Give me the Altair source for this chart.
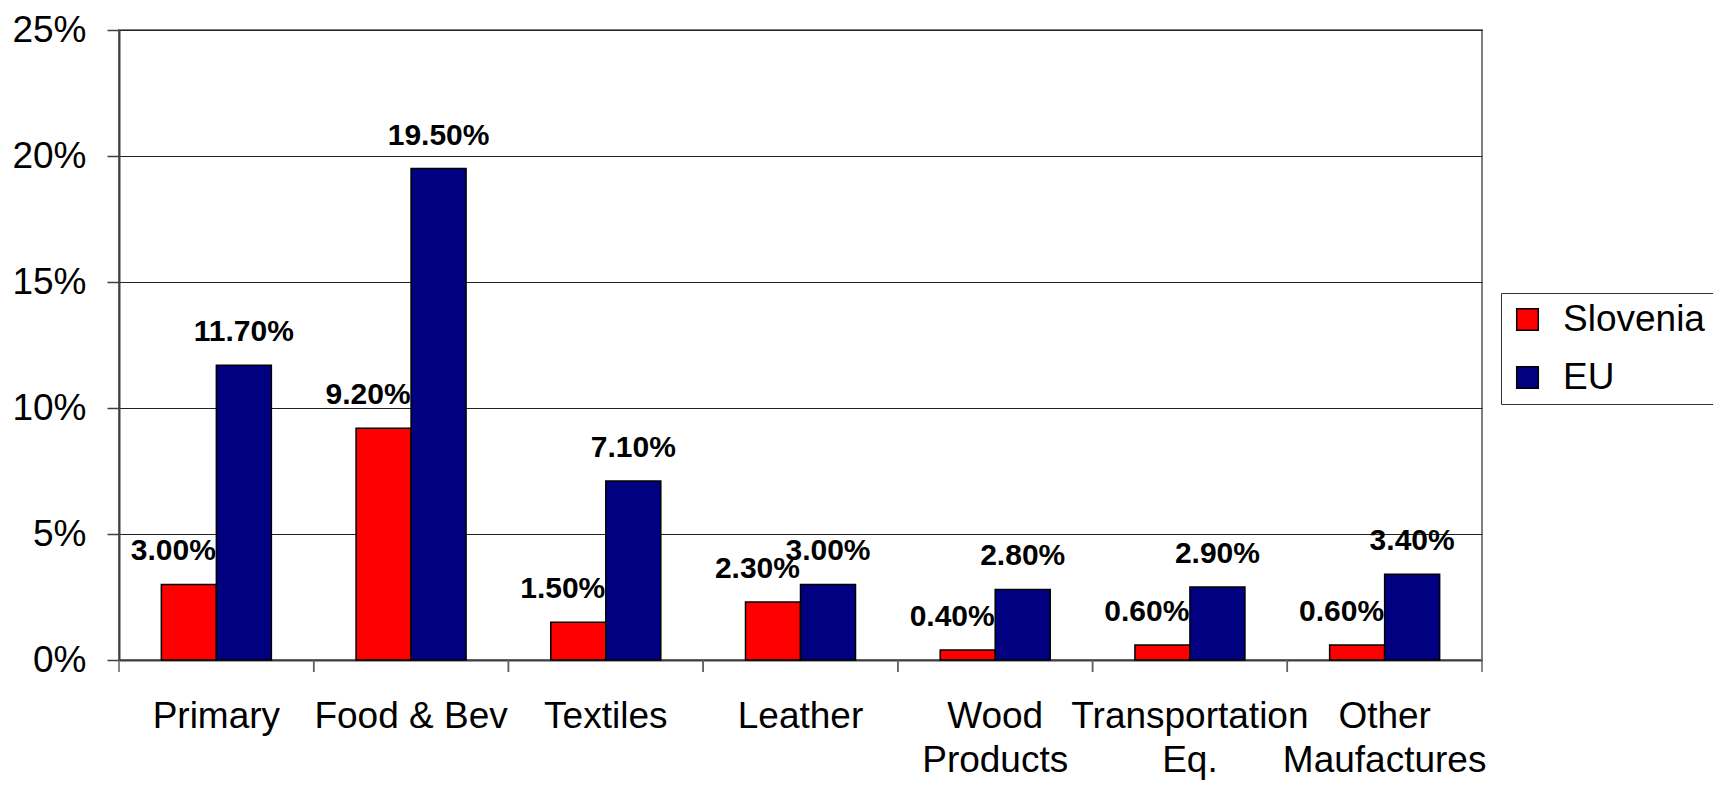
import json
import altair as alt
import pandas as pd

# ---- data ----
category_lines = [["Primary"], ["Food & Bev"], ["Textiles"], ["Leather"],
                  ["Wood", "Products"], ["Transportation", "Eq."], ["Other", "Maufactures"]]
categories = [" ".join(l) for l in category_lines]
series = ["Slovenia", "EU"]
slovenia = [3.0, 9.2, 1.5, 2.3, 0.4, 0.6, 0.6]
eu = [11.7, 19.5, 7.1, 3.0, 2.8, 2.9, 3.4]
y_ticks = [0, 5, 10, 15, 20, 25]
colors = ["#FF0000", "#000080"]

rows = []
for c, s, e in zip(categories, slovenia, eu):
    rows.append({"category": c, "series": "Slovenia", "value": s})
    rows.append({"category": c, "series": "EU", "value": e})
df = pd.DataFrame(rows)
sep_df = pd.DataFrame({"category": categories})

label_expr = ""
for c, lines in zip(categories, category_lines):
    if len(lines) > 1:
        label_expr += f"datum.value == {json.dumps(c)} ? {json.dumps(lines)} : "
label_expr += "datum.value"

W, H = 1363, 630
FONT = "Liberation Sans"

x_enc = alt.X(
    "category:N", sort=categories,
    scale=alt.Scale(paddingInner=0, paddingOuter=0),
    axis=alt.Axis(title=None, labelAngle=0, ticks=False, labelExpr=label_expr,
                  labelFontSize=37, labelFont=FONT, labelColor="black",
                  labelLineHeight=44, labelPadding=38, labelLimit=0,
                  labelOverlap=False, labelBaseline="top",
                  domainColor="#404040", domainWidth=2),
)
xoff_enc = alt.XOffset("series:N", sort=series,
                       scale=alt.Scale(domain=series, paddingInner=0, paddingOuter=0.77))
y_enc = alt.Y(
    "value:Q",
    scale=alt.Scale(domain=[0, 25], nice=False, zero=True),
    axis=alt.Axis(title=None, values=y_ticks, labelExpr="datum.value + '%'",
                  tickSize=12, tickColor="#404040", tickWidth=1.5,
                  labelPadding=21, labelFontSize=37, labelFont=FONT, labelColor="black",
                  grid=True, gridColor="#222222", gridWidth=1,
                  domainColor="#404040", domainWidth=2),
)

base = alt.Chart(df)

bars = base.mark_bar(stroke="black", strokeWidth=1.5).encode(
    x=x_enc, xOffset=xoff_enc, y=y_enc,
    color=alt.Color("series:N", sort=series,
                    scale=alt.Scale(domain=series, range=colors),
                    legend=alt.Legend(title=None, orient="none", legendX=1382, legendY=263,
                                      strokeColor="#333333", fillColor="white", padding=8,
                                      symbolType="square", symbolSize=466,
                                      symbolStrokeColor="black", symbolStrokeWidth=1.5,
                                      labelFontSize=37, labelFont=FONT, labelColor="black",
                                      rowPadding=20, labelOffset=17)),
)

text_common = dict(baseline="alphabetic", dy=-24, fontSize=30, fontWeight="bold",
                   font=FONT, color="black")

labels_slo = base.transform_filter(alt.datum.series == "Slovenia").transform_calculate(
    label="format(datum.value, '.2f') + '%'"
).mark_text(align="right", dx=27, **text_common).encode(
    x=alt.X("category:N", sort=categories), xOffset=xoff_enc,
    y=alt.Y("value:Q"), text="label:N",
)

labels_eu = base.transform_filter(alt.datum.series == "EU").transform_calculate(
    label="format(datum.value, '.2f') + '%'"
).mark_text(align="center", **text_common).encode(
    x=alt.X("category:N", sort=categories), xOffset=xoff_enc,
    y=alt.Y("value:Q"), text="label:N",
)

sep0 = alt.Chart(sep_df).mark_rule(color="#606060", strokeWidth=1.5).encode(
    x=alt.X("category:N", sort=categories, bandPosition=0),
    y=alt.value(H), y2=alt.value(H + 12),
)
sep1 = alt.Chart(sep_df).mark_rule(color="#606060", strokeWidth=1.5).encode(
    x=alt.X("category:N", sort=categories, bandPosition=1),
    y=alt.value(H), y2=alt.value(H + 12),
)

chart = alt.layer(bars, labels_slo, labels_eu, sep0, sep1).properties(
    width=W, height=H,
    autosize=alt.AutoSizeParams(type="none"),
    padding={"left": 111, "top": 22, "right": 231, "bottom": 121},
    background="white",
).configure_view(stroke="#808080", strokeWidth=2)

chart.save("out.html", embed_options={"renderer": "svg", "actions": False})
